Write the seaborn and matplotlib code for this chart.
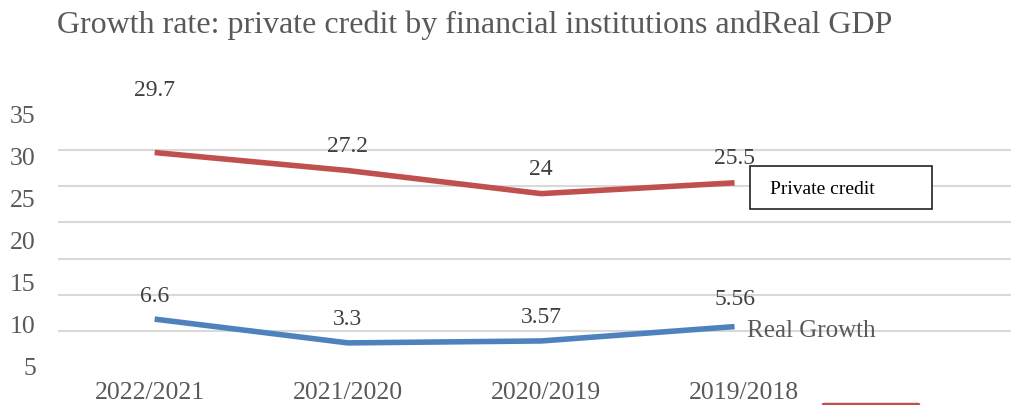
import numpy as np
import pandas as pd
import matplotlib
matplotlib.use("Agg")
import matplotlib.pyplot as plt
from matplotlib.lines import Line2D
from matplotlib.patches import Rectangle
import seaborn as sns

# Data
periods = ["2022/2021", "2021/2020", "2020/2019", "2019/2018"]
private_credit = [29.7, 27.2, 24.0, 25.5]
real_growth = [6.6, 3.3, 3.57, 5.56]
private_labels = ["29.7", "27.2", "24", "25.5"]
growth_labels = ["6.6", "3.3", "3.57", "5.56"]
ytick_labels = ["5", "10", "15", "20", "25", "30", "35"]

RED = "#c0504d"
BLUE = "#4f81bd"
GRAY = "#595959"
SERIF = ["Liberation Serif", "DejaVu Serif"]

sns.set_theme(style="white")
plt.rcParams["font.family"] = SERIF

df = pd.DataFrame({
    "pos": list(range(len(periods))) * 2,
    "value": private_credit + real_growth,
    "series": ["Private credit"] * len(periods) + ["Real Growth"] * len(periods),
})

W, H = 1011, 405
fig = plt.figure(figsize=(W / 100, H / 100), dpi=100)
ax = fig.add_axes([58 / W, 1 - 366.7 / H, 1 - 58 / W, (366.7 - 114.3) / H])

sns.lineplot(data=df, x="pos", y="value", hue="series",
             palette={"Private credit": RED, "Real Growth": BLUE},
             linewidth=4.0, legend=False, ax=ax, solid_capstyle="butt")

ax.set_xlim(-0.5, 4.43)
ax.set_ylim(0, 35)

# Gridlines every 5 units; tick labels spread evenly over the axis height
ax.set_yticks(np.arange(0, 36, 5), minor=True)
ax.grid(False)
ax.grid(True, which="minor", axis="y", color="#d9d9d9", linewidth=1.5)
ax.set_yticks(np.linspace(0, 35, 7))
ax.set_yticklabels(ytick_labels)
# category labels sit on a slightly wider spacing than the points
ax.set_xticks(np.arange(len(periods)) * 1.025 - 0.026)
ax.set_xticklabels(periods)
ax.tick_params(axis="y", which="both", length=0, pad=16, labelsize=18.5, labelcolor=GRAY)
ax.tick_params(axis="x", length=0, pad=11, labelsize=18.5, labelcolor=GRAY)
ax.set_xlabel("")
ax.set_ylabel("")
for s in ax.spines.values():
    s.set_visible(False)

# Value labels above each point
for i, (v, t) in enumerate(zip(private_credit, private_labels)):
    off = 62 if i == 0 else 24
    ax.annotate(t, (i, v), xytext=(0, off), textcoords="offset pixels",
                ha="center", va="center", fontsize=17, color="#404040")
for i, (v, t) in enumerate(zip(real_growth, growth_labels)):
    off = 27 if i == 3 else 23
    ax.annotate(t, (i, v), xytext=(0, off), textcoords="offset pixels",
                ha="center", va="center", fontsize=17, color="#404040")

# Title
fig.text(57 / W, 1 - 33.5 / H,
         "Growth rate: private credit by financial institutions andReal GDP",
         ha="left", va="baseline", fontsize=23, color=GRAY)

# Series captions
fig.patches.append(Rectangle((750 / W, 1 - 209 / H), 182 / W, 43 / H,
                             transform=fig.transFigure, facecolor="white",
                             edgecolor="#222222", linewidth=1.2, zorder=5))
fig.text(770 / W, 1 - 190 / H, "Private credit", ha="left", va="center",
         fontsize=14, color="black", zorder=6)
fig.text(747 / W, 1 - 331 / H, "Real Growth", ha="left", va="center",
         fontsize=18, color=GRAY)
fig.lines.append(Line2D([823 / W, 918 / W], [1 - 403.5 / H, 1 - 403.5 / H],
                        transform=fig.transFigure, color=RED, linewidth=2.5))

fig.savefig("out.png", dpi=100)
